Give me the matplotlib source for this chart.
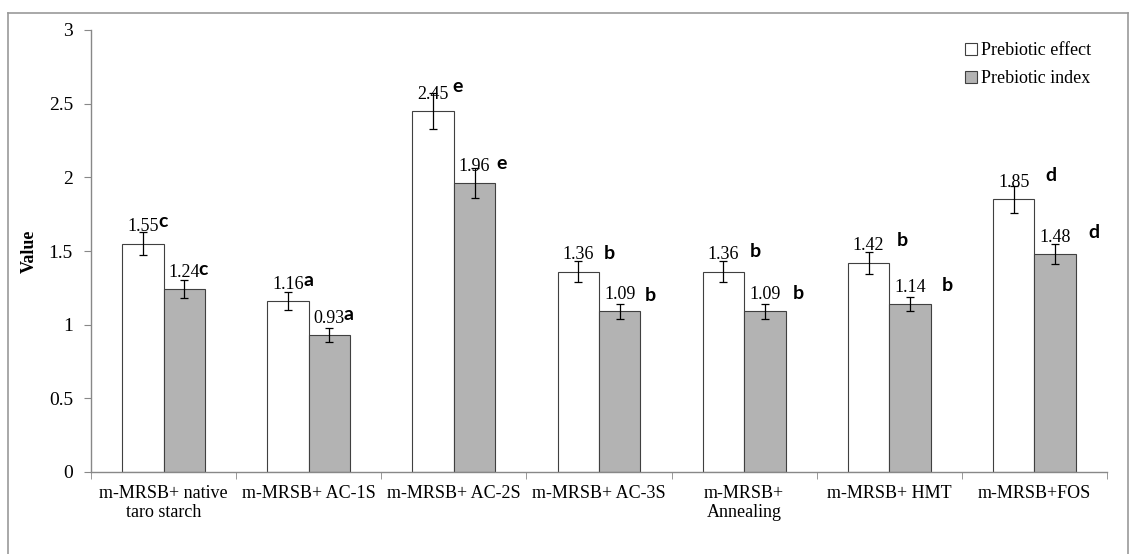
"""Prebiotic effect and prebiotic index of taro starch media."""

import matplotlib
matplotlib.use('Agg')
import matplotlib.pyplot as plt
import numpy as np
from matplotlib.lines import Line2D


# ================================ DATA ======================================

categories = ['m-MRSB+ native\ntaro starch', 'm-MRSB+ AC-1S', 'm-MRSB+ AC-2S',
              'm-MRSB+ AC-3S', 'm-MRSB+\nAnnealing', 'm-MRSB+ HMT', 'm-MRSB+FOS']

effect = [1.55, 1.16, 2.45, 1.36, 1.36, 1.42, 1.85]
effect_err = [0.08, 0.06, 0.12, 0.07, 0.07, 0.075, 0.09]
effect_letters = ['c', 'a', 'e', 'b', 'b', 'b', 'd']

index = [1.24, 0.93, 1.96, 1.09, 1.09, 1.14, 1.48]
index_err = [0.06, 0.045, 0.10, 0.05, 0.05, 0.05, 0.07]
index_letters = ['c', 'a', 'e', 'b', 'b', 'b', 'd']

# letter offsets from bar centre / top, in pixels (styling only)
effect_letter_off = [(20, 22), (21, 21), (24, 25), (31, 18), (32, 20), (34, 22), (37, 24)]
index_letter_off = [(19, 20), (19, 20), (27, 20), (31, 16), (33, 18), (37, 19), (39, 21)]


# ================================ PLOT ======================================

serif = ['Liberation Serif', 'DejaVu Serif']
sans = ['Lato', 'DejaVu Sans']
px = 0.72  # points per pixel at dpi 100

fig = plt.figure(figsize=(11.31, 5.54), dpi=100)
ax = fig.add_axes([91 / 1131, 1 - 472 / 554, (1107 - 91) / 1131, (472 - 30) / 554])

x = np.arange(len(categories))
w = 1 / 3.5

err_kw = dict(ecolor='black', elinewidth=0.9, capsize=3, capthick=0.9)
ax.bar(x - w / 2, effect, w, yerr=effect_err, color='white',
       edgecolor='#404040', linewidth=0.8, error_kw=err_kw, label='Prebiotic effect')
ax.bar(x + w / 2, index, w, yerr=index_err, color='#b3b3b3',
       edgecolor='#404040', linewidth=0.8, error_kw=err_kw, label='Prebiotic index')

for xs, vals, lets, offs in [(x - w / 2, effect, effect_letters, effect_letter_off),
                             (x + w / 2, index, index_letters, index_letter_off)]:
    for xi, v, let, (dx, dy) in zip(xs, vals, lets, offs):
        ax.annotate(f'{v:.2f}', (xi, v), xytext=(0, 6), textcoords='offset points',
                    ha='center', va='bottom', fontsize=13, family=serif)
        ax.annotate(let, (xi, v), xytext=(dx * px, dy * px), textcoords='offset points',
                    ha='center', va='center', fontsize=14, fontweight='bold', family=sans)

ax.set_xlim(-0.5, len(categories) - 0.5)
ax.set_ylim(0, 3)
ax.set_yticks([0, 0.5, 1, 1.5, 2, 2.5, 3])
ax.set_yticklabels(['0', '0.5', '1', '1.5', '2', '2.5', '3'], family=serif, fontsize=14)

ax.set_xticks(x)
ax.set_xticklabels(categories, family=serif, fontsize=13, linespacing=1.2)
ax.set_xticks(np.arange(len(categories) + 1) - 0.5, minor=True)
ax.tick_params(axis='x', which='major', length=0, pad=9)
ax.tick_params(axis='x', which='minor', length=5, color='#888888')
ax.tick_params(axis='y', length=5, color='#888888', pad=8)

for s in ['top', 'right']:
    ax.spines[s].set_visible(False)
for s in ['left', 'bottom']:
    ax.spines[s].set_color('#888888')
    ax.spines[s].set_linewidth(1.0)

ax.set_ylabel('Value', family=serif, fontsize=13, fontweight='bold')
ax.yaxis.set_label_coords(-53 / 1016, 0.5)

ax.legend(loc='upper left', bbox_to_anchor=(958 / 1131, 1 - 35 / 554),
          bbox_transform=fig.transFigure, frameon=False,
          prop={'family': serif, 'size': 13}, handlelength=0.65, handleheight=0.65,
          handletextpad=0.25, labelspacing=0.6, borderaxespad=0)

# outer frame
fc = '#999999'
fig.add_artist(Line2D([8 / 1131, 1128 / 1131], [1 - 13 / 554] * 2, color=fc, lw=1.2))
fig.add_artist(Line2D([8 / 1131] * 2, [0, 1 - 13 / 554], color=fc, lw=1.2))
fig.add_artist(Line2D([1128 / 1131] * 2, [0, 1 - 13 / 554], color=fc, lw=1.2))

fig.savefig('out.png', dpi=100)
